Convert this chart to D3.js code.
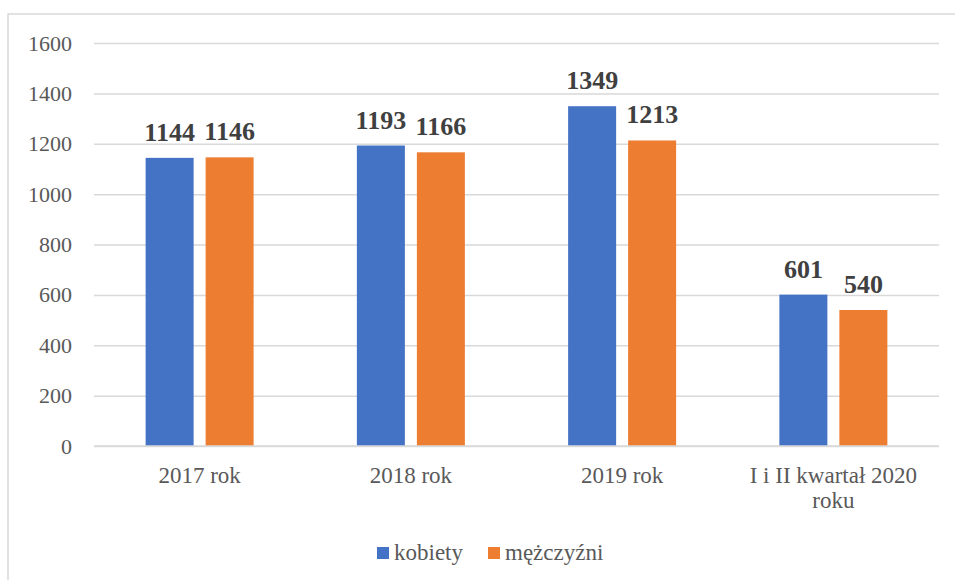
<!DOCTYPE html>
<html>
<head>
<meta charset="utf-8">
<script src="https://cdn.jsdelivr.net/npm/d3@7"></script>
<style>
  html, body { margin: 0; padding: 0; background: #fff; }
  svg { display: block; }
  text { font-family: "Liberation Serif", "Times New Roman", serif; }
</style>
</head>
<body>
<svg id="chart"></svg>
<script>
// Data
const categories = ['2017 rok', '2018 rok', '2019 rok', 'I i II kwartał 2020 roku'];
const kobiety = [1144, 1193, 1349, 601];
const mezczyzni = [1146, 1166, 1213, 540];
const seriesNames = ['kobiety', 'mężczyźni'];
const yTicks = [0, 200, 400, 600, 800, 1000, 1200, 1400, 1600];

const colors = { 'kobiety': '#4472C4', 'mężczyźni': '#ED7D31' };
const serif = '"Liberation Serif", "Times New Roman", serif';

const W = 955, H = 580;
const margin = { top: 43, right: 16, bottom: 134, left: 94 };
const width = W - margin.left - margin.right;
const height = H - margin.top - margin.bottom;

const svg = d3.select('#chart').attr('width', W).attr('height', H);

// Outer chart frame (cut off on the right and bottom in the reference)
svg.append('rect')
  .attr('x', 8).attr('y', 14)
  .attr('width', W + 10).attr('height', H + 10)
  .attr('fill', 'none')
  .attr('stroke', '#d9d9d9')
  .attr('stroke-width', 1.5);

const g = svg.append('g')
  .attr('transform', `translate(${margin.left},${margin.top})`);

const x0 = d3.scaleBand()
  .domain(categories)
  .range([0, width])
  .padding(0);

const x1 = d3.scaleBand()
  .domain(seriesNames)
  .range([0, 108])
  .paddingInner(0.2)
  .paddingOuter(0);

const y = d3.scaleLinear()
  .domain([0, 1600])
  .range([height, 0]);

// Grid
g.append('g')
  .call(d3.axisLeft(y).tickValues(yTicks).tickSize(-width).tickFormat(''))
  .call(a => a.select('.domain').remove())
  .selectAll('line')
  .attr('stroke', '#d9d9d9')
  .attr('stroke-width', 1.5);

// Y tick labels
g.append('g')
  .call(d3.axisLeft(y).tickValues(yTicks).tickSize(0).tickPadding(22).tickFormat(d3.format('d')))
  .attr('font-family', serif)
  .attr('font-size', 22)
  .call(a => a.select('.domain').remove())
  .selectAll('text')
  .attr('fill', '#595959');

const rows = categories.map((c, i) => ({
  cat: c,
  values: [
    { key: 'kobiety', value: kobiety[i] },
    { key: 'mężczyźni', value: mezczyzni[i] }
  ]
}));

const groups = g.selectAll('.group')
  .data(rows)
  .enter().append('g')
  .attr('class', 'group')
  .attr('transform', d => `translate(${x0(d.cat) + (x0.bandwidth() - 108) / 2},0)`);

groups.selectAll('rect')
  .data(d => d.values)
  .enter().append('rect')
  .attr('x', d => x1(d.key))
  .attr('y', d => y(d.value))
  .attr('width', x1.bandwidth())
  .attr('height', d => height - y(d.value))
  .attr('fill', d => colors[d.key]);

groups.selectAll('.val')
  .data(d => d.values)
  .enter().append('text')
  .attr('class', 'val')
  .attr('x', d => x1(d.key) + x1.bandwidth() / 2)
  .attr('y', d => y(d.value) - 17)
  .attr('text-anchor', 'middle')
  .attr('font-size', 26)
  .attr('font-weight', 'bold')
  .attr('fill', '#404040')
  .text(d => d.value);

// Zero line
g.append('line')
  .attr('x1', 0).attr('x2', width)
  .attr('y1', y(0)).attr('y2', y(0))
  .attr('stroke', '#d9d9d9')
  .attr('stroke-width', 1.5);

// X axis labels (wrapped like the reference)
const xLabels = { 'I i II kwartał 2020 roku': ['I i II kwartał 2020', 'roku'] };
const xAxis = g.append('g')
  .attr('transform', `translate(0,${height})`);
categories.forEach(c => {
  const lines = xLabels[c] || [c];
  const t = xAxis.append('text')
    .attr('x', x0(c) + x0.bandwidth() / 2)
    .attr('y', 37)
    .attr('text-anchor', 'middle')
    .attr('font-size', 23)
    .attr('fill', '#595959');
  lines.forEach((l, i) => {
    t.append('tspan')
      .attr('x', x0(c) + x0.bandwidth() / 2)
      .attr('dy', i === 0 ? 0 : 25)
      .text(l);
  });
});

// Legend
const legend = svg.append('g').attr('transform', 'translate(377,547)');
const legendX = [0, 111];
seriesNames.forEach((s, i) => {
  const item = legend.append('g').attr('transform', `translate(${legendX[i]},0)`);
  item.append('rect')
    .attr('width', 12).attr('height', 12)
    .attr('fill', colors[s]);
  item.append('text')
    .attr('x', 17)
    .attr('y', 13)
    .attr('font-size', 23)
    .attr('fill', '#595959')
    .text(s);
});
</script>
</body>
</html>
